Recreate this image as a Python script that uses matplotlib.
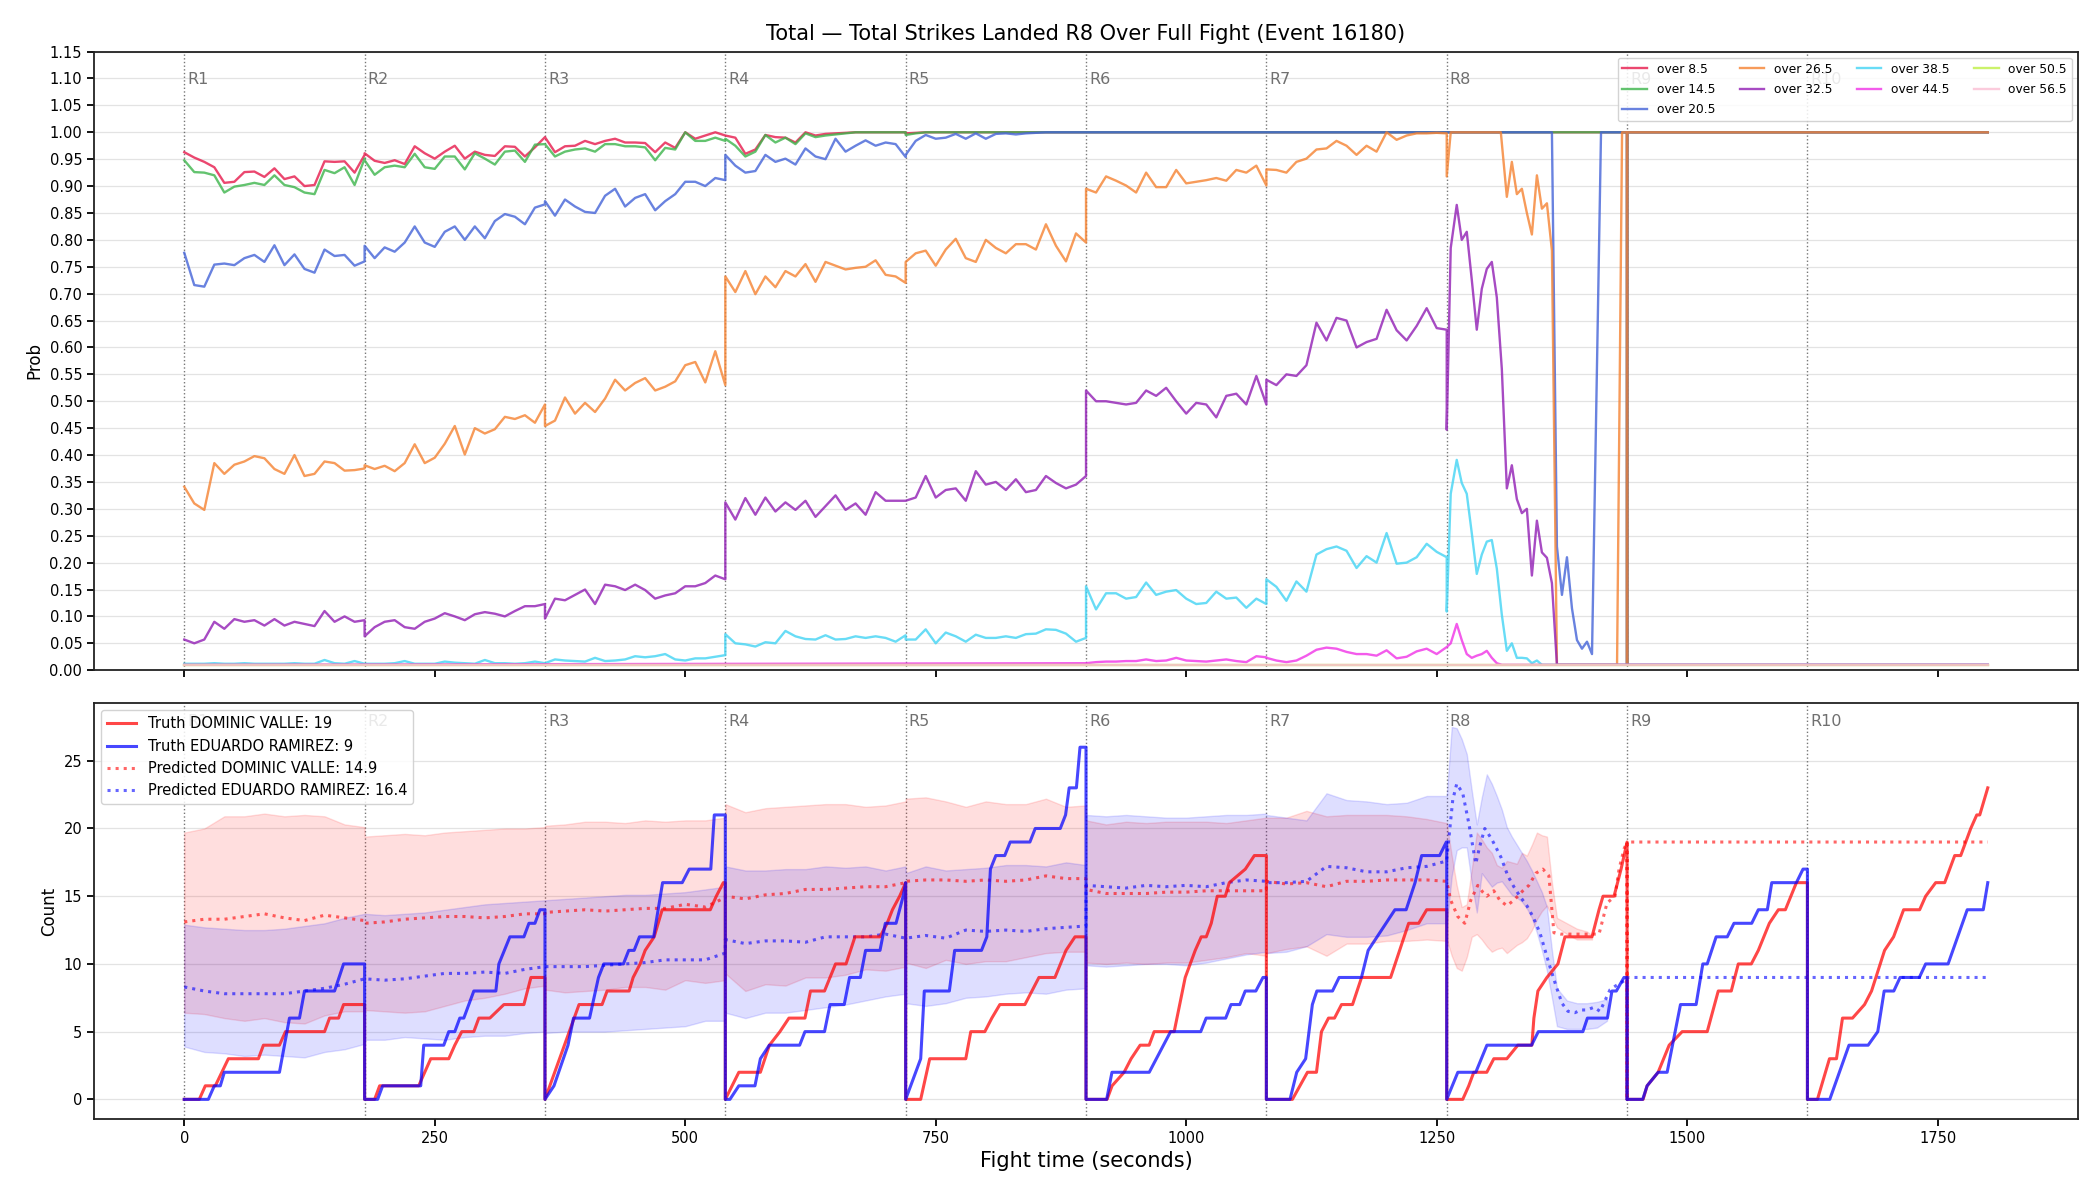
import numpy as np
import matplotlib
matplotlib.use("Agg")
import matplotlib.pyplot as plt
import matplotlib.transforms as mtransforms

ROUND_LEN = 180
N_ROUNDS = 10

# Rounds 1-7: top panel sampled every 10 s, bottom panel every 20 s
# (end of one round and start of the next share a time stamp)
t_top = np.concatenate([r * ROUND_LEN + np.arange(0, ROUND_LEN + 1, 10) for r in range(7)])
t_grid = np.concatenate([r * ROUND_LEN + np.arange(0, ROUND_LEN + 1, 20) for r in range(7)])

# ---------------- top panel: P(total strikes over line) ----------------
line_names = ['over 8.5', 'over 14.5', 'over 20.5', 'over 26.5', 'over 32.5',
              'over 38.5', 'over 44.5', 'over 50.5', 'over 56.5']
line_colors = ['#e6194b', '#3cb44b', '#4363d8', '#f58231', '#911eb4',
               '#42d4f4', '#f032e6', '#bfef45', '#fabed4']

over_8_5 = [
    0.963, 0.953, 0.945, 0.935, 0.906, 0.908, 0.926, 0.927, 0.917, 0.933, 0.913, 0.918, 0.900, 0.902, 0.946, 0.945, 0.946, 0.925, 0.958,
    0.961, 0.947, 0.943, 0.948, 0.941, 0.974, 0.961, 0.951, 0.964, 0.975, 0.951, 0.964, 0.958, 0.956, 0.974, 0.973, 0.955, 0.972, 0.991,
    0.991, 0.963, 0.974, 0.975, 0.984, 0.978, 0.984, 0.988, 0.981, 0.981, 0.980, 0.963, 0.981, 0.971, 1.000, 0.988, 0.994, 1.000, 0.994,
    0.994, 0.990, 0.960, 0.968, 0.995, 0.991, 0.990, 0.981, 1.000, 0.994, 0.997, 0.998, 0.999, 1.000, 1.000, 1.000, 1.000, 1.000, 1.000,
    0.998, 0.999, 1.000, 1.000, 1.000, 1.000, 1.000, 1.000, 1.000, 1.000, 1.000, 1.000, 1.000, 1.000, 1.000, 1.000, 1.000, 1.000, 1.000,
    1.000, 1.000, 1.000, 1.000, 1.000, 1.000, 1.000, 1.000, 1.000, 1.000, 1.000, 1.000, 1.000, 1.000, 1.000, 1.000, 1.000, 1.000, 1.000,
    1.000, 1.000, 1.000, 1.000, 1.000, 1.000, 1.000, 1.000, 1.000, 1.000, 1.000, 1.000, 1.000, 1.000, 1.000, 1.000, 1.000, 1.000, 1.000,
]
over_14_5 = [
    0.948, 0.926, 0.925, 0.920, 0.888, 0.899, 0.902, 0.906, 0.902, 0.920, 0.902, 0.898, 0.888, 0.885, 0.930, 0.924, 0.935, 0.902, 0.951,
    0.948, 0.921, 0.935, 0.938, 0.935, 0.960, 0.935, 0.932, 0.955, 0.955, 0.931, 0.961, 0.951, 0.940, 0.964, 0.966, 0.945, 0.977, 0.978,
    0.978, 0.955, 0.964, 0.968, 0.970, 0.964, 0.978, 0.978, 0.974, 0.974, 0.972, 0.948, 0.971, 0.968, 1.000, 0.984, 0.984, 0.990, 0.984,
    0.988, 0.975, 0.955, 0.964, 0.995, 0.981, 0.990, 0.978, 0.998, 0.991, 0.994, 0.996, 0.998, 1.000, 1.000, 1.000, 1.000, 1.000, 1.000,
    0.995, 0.998, 1.000, 1.000, 1.000, 1.000, 1.000, 1.000, 1.000, 1.000, 1.000, 1.000, 1.000, 1.000, 1.000, 1.000, 1.000, 1.000, 1.000,
    1.000, 1.000, 1.000, 1.000, 1.000, 1.000, 1.000, 1.000, 1.000, 1.000, 1.000, 1.000, 1.000, 1.000, 1.000, 1.000, 1.000, 1.000, 1.000,
    1.000, 1.000, 1.000, 1.000, 1.000, 1.000, 1.000, 1.000, 1.000, 1.000, 1.000, 1.000, 1.000, 1.000, 1.000, 1.000, 1.000, 1.000, 1.000,
]
over_20_5 = [
    0.776, 0.716, 0.713, 0.754, 0.756, 0.753, 0.766, 0.772, 0.759, 0.790, 0.753, 0.773, 0.746, 0.739, 0.782, 0.770, 0.772, 0.752, 0.760,
    0.789, 0.766, 0.786, 0.778, 0.795, 0.825, 0.795, 0.787, 0.815, 0.825, 0.800, 0.825, 0.803, 0.835, 0.848, 0.843, 0.829, 0.860, 0.866,
    0.872, 0.845, 0.875, 0.862, 0.852, 0.850, 0.882, 0.895, 0.862, 0.878, 0.885, 0.855, 0.872, 0.885, 0.908, 0.908, 0.900, 0.915, 0.911,
    0.958, 0.938, 0.925, 0.928, 0.958, 0.945, 0.951, 0.940, 0.970, 0.955, 0.950, 0.988, 0.964, 0.975, 0.985, 0.975, 0.981, 0.978, 0.954,
    0.958, 0.984, 0.995, 0.988, 0.990, 0.997, 0.988, 0.998, 0.988, 0.997, 0.998, 0.996, 0.998, 0.999, 1.000, 1.000, 1.000, 1.000, 1.000,
    1.000, 1.000, 1.000, 1.000, 1.000, 1.000, 1.000, 1.000, 1.000, 1.000, 1.000, 1.000, 1.000, 1.000, 1.000, 1.000, 1.000, 1.000, 1.000,
    1.000, 1.000, 1.000, 1.000, 1.000, 1.000, 1.000, 1.000, 1.000, 1.000, 1.000, 1.000, 1.000, 1.000, 1.000, 1.000, 1.000, 1.000, 1.000,
]
over_26_5 = [
    0.341, 0.310, 0.298, 0.385, 0.365, 0.382, 0.388, 0.398, 0.394, 0.374, 0.365, 0.400, 0.361, 0.365, 0.388, 0.385, 0.371, 0.372, 0.375,
    0.381, 0.374, 0.380, 0.370, 0.385, 0.420, 0.385, 0.395, 0.421, 0.454, 0.401, 0.450, 0.440, 0.448, 0.471, 0.467, 0.474, 0.460, 0.494,
    0.454, 0.464, 0.507, 0.477, 0.497, 0.480, 0.505, 0.540, 0.520, 0.534, 0.543, 0.520, 0.527, 0.537, 0.567, 0.573, 0.535, 0.593, 0.530,
    0.732, 0.703, 0.742, 0.699, 0.732, 0.712, 0.742, 0.732, 0.755, 0.722, 0.759, 0.752, 0.745, 0.748, 0.750, 0.762, 0.735, 0.732, 0.720,
    0.759, 0.775, 0.780, 0.752, 0.782, 0.802, 0.766, 0.759, 0.800, 0.785, 0.775, 0.792, 0.792, 0.782, 0.829, 0.789, 0.760, 0.812, 0.795,
    0.895, 0.888, 0.918, 0.910, 0.901, 0.888, 0.925, 0.898, 0.898, 0.930, 0.905, 0.908, 0.911, 0.915, 0.910, 0.930, 0.925, 0.938, 0.901,
    0.931, 0.930, 0.925, 0.945, 0.951, 0.968, 0.970, 0.984, 0.975, 0.958, 0.975, 0.964, 1.000, 0.986, 0.994, 0.998, 0.998, 0.999, 0.998,
]
over_32_5 = [
    0.057, 0.050, 0.057, 0.090, 0.077, 0.095, 0.090, 0.093, 0.083, 0.095, 0.083, 0.090, 0.086, 0.082, 0.110, 0.090, 0.100, 0.090, 0.093,
    0.063, 0.080, 0.090, 0.093, 0.080, 0.077, 0.090, 0.096, 0.106, 0.100, 0.093, 0.104, 0.108, 0.105, 0.100, 0.110, 0.119, 0.119, 0.123,
    0.096, 0.133, 0.130, 0.140, 0.150, 0.123, 0.159, 0.156, 0.149, 0.159, 0.149, 0.133, 0.139, 0.143, 0.156, 0.156, 0.162, 0.176, 0.169,
    0.312, 0.280, 0.320, 0.289, 0.321, 0.295, 0.312, 0.298, 0.315, 0.285, 0.305, 0.325, 0.298, 0.310, 0.289, 0.331, 0.315, 0.315, 0.315,
    0.315, 0.321, 0.361, 0.321, 0.335, 0.338, 0.315, 0.370, 0.345, 0.350, 0.335, 0.355, 0.331, 0.335, 0.361, 0.348, 0.338, 0.345, 0.361,
    0.520, 0.500, 0.500, 0.497, 0.494, 0.497, 0.520, 0.510, 0.525, 0.500, 0.477, 0.497, 0.494, 0.470, 0.510, 0.514, 0.494, 0.547, 0.494,
    0.540, 0.530, 0.550, 0.547, 0.567, 0.646, 0.613, 0.655, 0.650, 0.600, 0.610, 0.616, 0.670, 0.632, 0.613, 0.640, 0.673, 0.636, 0.633,
]
over_38_5 = [
    0.012, 0.012, 0.012, 0.013, 0.012, 0.012, 0.013, 0.012, 0.012, 0.012, 0.012, 0.013, 0.012, 0.012, 0.019, 0.013, 0.012, 0.017, 0.012,
    0.012, 0.012, 0.012, 0.013, 0.017, 0.012, 0.012, 0.012, 0.016, 0.014, 0.013, 0.012, 0.019, 0.013, 0.013, 0.012, 0.013, 0.016, 0.013,
    0.013, 0.020, 0.018, 0.017, 0.016, 0.023, 0.017, 0.018, 0.020, 0.026, 0.024, 0.026, 0.030, 0.020, 0.018, 0.022, 0.022, 0.025, 0.028,
    0.067, 0.050, 0.048, 0.044, 0.052, 0.050, 0.073, 0.063, 0.058, 0.057, 0.065, 0.057, 0.058, 0.063, 0.060, 0.063, 0.060, 0.053, 0.065,
    0.057, 0.057, 0.076, 0.050, 0.070, 0.063, 0.053, 0.066, 0.060, 0.060, 0.063, 0.060, 0.067, 0.068, 0.076, 0.075, 0.068, 0.053, 0.060,
    0.156, 0.113, 0.143, 0.143, 0.133, 0.136, 0.163, 0.140, 0.146, 0.149, 0.133, 0.123, 0.125, 0.146, 0.133, 0.135, 0.116, 0.133, 0.123,
    0.169, 0.155, 0.129, 0.165, 0.146, 0.215, 0.225, 0.230, 0.222, 0.190, 0.212, 0.200, 0.255, 0.198, 0.200, 0.210, 0.235, 0.220, 0.210,
]
# over 44.5 only lifts off the floor from round 6
over_44_5_r6_r7 = [
    0.013, 0.015, 0.016, 0.016, 0.017, 0.017, 0.020, 0.017, 0.018, 0.023, 0.018, 0.017, 0.016, 0.018, 0.020, 0.017, 0.015, 0.026, 0.024,
    0.023, 0.018, 0.015, 0.018, 0.027, 0.038, 0.042, 0.040, 0.034, 0.030, 0.030, 0.027, 0.037, 0.022, 0.025, 0.035, 0.040, 0.030, 0.043,
]

# round 8 onward, own time stamps
t8_hi = [1260, 1440, 1440, 1440, 1800]
v8_hi = [1.0, 1.0, 0.01, 1.0, 1.0]
t8_20 = [1260, 1365, 1370, 1375, 1380, 1385, 1390, 1395, 1400, 1405, 1414,
         1440, 1440, 1440, 1800]
v8_20 = [1.0, 1.0, 0.23, 0.14, 0.21, 0.115, 0.056, 0.04, 0.053, 0.03, 1.0,
         1.0, 0.01, 1.0, 1.0]
t8_26 = [1260, 1264, 1314, 1320, 1325, 1330, 1335, 1340, 1345, 1350, 1355,
         1360, 1365, 1370, 1430, 1435, 1440, 1440, 1440, 1800]
v8_26 = [0.918, 1.0, 1.0, 0.88, 0.945, 0.885, 0.895, 0.85, 0.81, 0.92, 0.858,
         0.868, 0.78, 0.01, 0.01, 1.0, 1.0, 0.01, 1.0, 1.0]
t8_32 = [1260, 1264, 1270, 1275, 1280, 1285, 1290, 1295, 1300, 1305, 1310,
         1315, 1320, 1325, 1330, 1335, 1340, 1345, 1350, 1355, 1360, 1365,
         1370, 1800]
v8_32 = [0.447, 0.785, 0.865, 0.80, 0.815, 0.726, 0.633, 0.709, 0.746, 0.759,
         0.693, 0.56, 0.338, 0.381, 0.318, 0.292, 0.30, 0.176, 0.278, 0.219,
         0.209, 0.162, 0.01, 0.01]
t8_38 = [1260, 1264, 1270, 1275, 1280, 1285, 1290, 1295, 1300, 1305, 1310,
         1315, 1320, 1325, 1330, 1335, 1340, 1345, 1350, 1355, 1800]
v8_38 = [0.109, 0.328, 0.391, 0.348, 0.328, 0.255, 0.179, 0.215, 0.239, 0.242,
         0.189, 0.103, 0.036, 0.05, 0.023, 0.023, 0.022, 0.013, 0.018, 0.01,
         0.01]
t8_44 = [1260, 1264, 1270, 1275, 1280, 1285, 1290, 1295, 1300, 1305, 1310,
         1315, 1800]
v8_44 = [0.043, 0.05, 0.086, 0.056, 0.03, 0.023, 0.027, 0.03, 0.036, 0.023,
         0.013, 0.01, 0.01]
floor_t = [0, 1800]
floor_v = [0.01, 0.01]

# ---------------- bottom panel: cumulative strikes per round ----------------
name_a = 'DOMINIC VALLE'
name_b = 'EDUARDO RAMIREZ'
final_a, final_b = 19, 9
pred_final_a, pred_final_b = 14.9, 16.4

# truth: per round (offset in round, count)
truth_a_rounds = [
    ([0, 15, 21, 31, 44, 74, 79, 95, 101, 140, 145, 154, 159, 180],
     [0, 0, 1, 1, 3, 3, 4, 4, 5, 5, 6, 6, 7, 7]),
    ([0, 10, 15, 54, 60, 66, 84, 90, 97, 109, 114, 125, 139, 159, 166, 180],
     [0, 0, 1, 1, 2, 3, 3, 4, 5, 5, 6, 6, 7, 7, 9, 9]),
    ([0, 34, 57, 62, 84, 88, 95, 100, 109, 117, 165, 171, 178, 180],
     [0, 7, 7, 8, 8, 9, 10, 11, 12, 14, 14, 15, 16, 16]),
    ([0, 13.5, 35, 44, 54.5, 63.5, 79.5, 85, 99, 110, 120.5, 129.4, 154.4, 161.5, 166.8, 174, 180],
     [0, 2, 2, 4, 5, 6, 6, 8, 8, 10, 10, 12, 12, 13, 14, 15, 16]),
    ([0, 15, 24, 60, 65, 79, 86, 94, 119, 126, 133, 149, 160, 169, 180],
     [0, 0, 3, 3, 5, 5, 6, 7, 7, 8, 9, 9, 11, 12, 12]),
    ([0, 21, 26, 38, 45, 54, 63, 68, 88, 99, 109, 115, 120, 125, 131, 139, 143, 159, 168, 180],
     [0, 0, 1, 2, 3, 4, 4, 5, 5, 9, 11, 12, 12, 13, 15, 15, 16, 17, 18, 18]),
    ([0, 26, 41, 50, 55, 62, 68, 75, 86, 95, 124, 142, 152, 160, 180],
     [0, 0, 2, 2, 5, 6, 6, 7, 7, 9, 9, 13, 13, 14, 14]),
    ([0, 16, 22, 27, 40, 47, 60, 71, 85, 87, 91, 100, 111, 118, 145, 152, 156, 167, 174, 180],
     [0, 0, 1, 2, 2, 3, 3, 4, 4, 6, 8, 9, 10, 12, 12, 14, 15, 15, 17, 19]),
    ([0, 16, 20, 31, 42, 55, 80, 91, 104, 111, 124, 131, 142, 151, 158, 169, 180],
     [0, 0, 1, 2, 4, 5, 5, 8, 8, 10, 10, 11, 13, 14, 14, 16, 16]),
    ([0, 10, 22, 29, 35, 45, 57, 64, 77, 86, 96, 112, 118, 128, 137, 147, 153, 163, 169, 172, 180],
     [0, 0, 3, 3, 6, 6, 7, 8, 11, 12, 14, 14, 15, 16, 16, 18, 18, 20, 21, 21, 23]),
]
truth_b_rounds = [
    ([0, 24, 30, 36, 40, 95, 105, 115, 120, 150, 159, 180],
     [0, 0, 1, 1, 2, 2, 6, 6, 8, 8, 10, 10]),
    ([0, 13, 18, 56, 59, 79, 84, 90, 95, 99, 109, 131, 134, 145, 159, 164, 170, 175, 180],
     [0, 0, 1, 1, 4, 4, 5, 5, 6, 6, 8, 8, 10, 12, 12, 13, 13, 14, 14]),
    ([0, 9, 23, 28.5, 44.5, 53.4, 58.7, 78.3, 83.6, 89, 94.3, 108.5, 117.4, 137, 144, 165.5, 169, 180],
     [0, 1, 4, 6, 6, 9, 10, 10, 11, 11, 12, 12, 16, 16, 17, 17, 21, 21]),
    ([0, 4.6, 13.5, 29.6, 35, 43.9, 74.2, 79.5, 99, 104.5, 118.7, 124, 134.8, 140, 154.4, 159.7, 170.4, 177.5, 180],
     [0, 0, 1, 1, 3, 4, 4, 5, 5, 7, 7, 9, 9, 11, 11, 13, 13, 15, 16]),
    ([0, 15, 18.6, 43.6, 48.9, 75.7, 81, 84.6, 90, 98.9, 104.3, 124, 129.3, 154.3, 159.6, 163.2, 170.4, 174, 180],
     [0, 3, 8, 8, 11, 11, 12, 17, 18, 18, 19, 19, 20, 20, 21, 23, 23, 26, 26]),
    ([0, 20.6, 25.9, 63.1, 70.2, 84.4, 114.5, 119.9, 139.4, 144.7, 153.5, 158.9, 169.5, 176.6, 180],
     [0, 0, 2, 2, 3, 5, 5, 6, 6, 7, 7, 8, 8, 9, 9]),
    ([0, 23.6, 30.3, 39.2, 45.9, 50.4, 66, 72.6, 94.9, 101.6, 110.5, 119.4, 128.3, 139.5, 148.4, 155, 172.9, 179.6, 180],
     [0, 0, 2, 3, 7, 8, 8, 9, 9, 11, 12, 13, 14, 14, 16, 18, 18, 19, 19]),
    ([0, 11.1, 29, 40.1, 84.7, 91.4, 135.9, 140.4, 160.4, 164.9, 169.3, 176.9, 180],
     [0, 2, 2, 4, 4, 5, 5, 6, 6, 8, 8, 9, 9]),
    ([0, 15.6, 20, 31, 40, 53.3, 68.9, 75.6, 80, 88.9, 100, 106.7, 124.4, 131, 140, 144.4, 169, 175.6, 180],
     [0, 0, 1, 2, 2, 7, 7, 10, 10, 12, 12, 13, 13, 14, 14, 16, 16, 17, 17]),
    ([0, 22.3, 31.9, 41.5, 60.6, 70.2, 76.6, 86.2, 92.5, 111.7, 118, 140.4, 150, 159.5, 175.5, 180],
     [0, 0, 2, 4, 4, 5, 8, 8, 9, 9, 10, 10, 12, 14, 14, 16]),
]

# predicted mean and interval, rounds 1-7 on the 20 s grid
pred_a = [
    13.1, 13.3, 13.3, 13.5, 13.7, 13.4, 13.2, 13.6, 13.4, 13.2,
    13.0, 13.1, 13.3, 13.4, 13.5, 13.5, 13.4, 13.5, 13.7, 13.7,
    13.8, 13.9, 14.0, 13.9, 14.0, 14.1, 14.1, 14.4, 14.2, 14.9,
    15.0, 14.8, 15.1, 15.2, 15.5, 15.5, 15.6, 15.7, 15.7, 16.0,
    16.1, 16.2, 16.2, 16.1, 16.2, 16.1, 16.2, 16.5, 16.3, 16.3,
    15.5, 15.2, 15.2, 15.2, 15.3, 15.3, 15.4, 15.4, 15.4, 15.4,
    16.1, 15.9, 16.0, 15.7, 16.1, 16.1, 16.2, 16.2, 16.2, 16.1,
]
pred_b = [
    8.3, 8.0, 7.8, 7.8, 7.8, 7.8, 8.0, 8.2, 8.5, 8.9,
    8.9, 8.8, 8.9, 9.1, 9.3, 9.3, 9.4, 9.3, 9.6, 9.8,
    9.8, 9.8, 9.8, 9.9, 10.0, 10.1, 10.3, 10.3, 10.3, 10.8,
    11.8, 11.5, 11.7, 11.7, 11.6, 12.0, 12.0, 12.0, 12.2, 11.9,
    11.9, 12.1, 11.9, 12.5, 12.4, 12.5, 12.4, 12.6, 12.7, 12.8,
    15.8, 15.7, 15.6, 15.8, 15.7, 15.8, 15.7, 16.0, 16.2, 16.1,
    16.0, 16.0, 16.1, 17.2, 17.1, 16.8, 16.8, 17.1, 17.2, 17.6,
]
hi_a = [
    19.7, 20.0, 20.9, 20.9, 21.1, 20.9, 21.0, 20.9, 20.3, 20.1,
    19.4, 19.5, 19.6, 19.5, 19.7, 19.8, 19.9, 20.0, 20.0, 20.1,
    20.2, 20.3, 20.5, 20.5, 20.4, 20.6, 20.5, 20.6, 20.6, 20.8,
    21.8, 21.2, 21.5, 21.6, 21.7, 21.8, 21.8, 21.6, 21.7, 22.0,
    22.2, 22.3, 22.0, 21.6, 22.0, 21.8, 21.8, 22.2, 21.6, 21.7,
    20.6, 20.3, 20.5, 20.4, 20.5, 20.5, 20.5, 20.4, 20.6, 20.8,
    20.8, 20.8, 21.3, 20.9, 21.0, 21.0, 21.0, 20.9, 20.7, 20.4,
]
lo_a = [
    6.4, 6.3, 6.0, 5.8, 6.0, 5.7, 5.6, 6.2, 6.5, 6.5,
    6.6, 6.5, 6.4, 6.5, 6.9, 7.3, 7.5, 7.8, 8.2, 8.4,
    8.1, 7.9, 8.0, 8.1, 8.3, 8.3, 8.1, 8.8, 8.6, 8.8,
    9.3, 8.0, 8.5, 8.4, 9.0, 9.0, 9.2, 9.6, 9.5, 9.8,
    10.1, 9.7, 10.3, 10.0, 10.2, 10.2, 10.5, 10.8, 10.9, 10.9,
    10.1, 10.0, 10.1, 10.0, 10.1, 10.1, 10.3, 10.5, 10.8, 10.6,
    10.8, 11.1, 11.3, 10.6, 11.5, 11.5, 11.7, 11.7, 11.8, 11.7,
]
hi_b = [
    12.9, 12.7, 12.6, 12.5, 12.5, 12.6, 12.8, 13.0, 13.4, 13.7,
    13.7, 13.6, 13.7, 13.8, 14.0, 14.2, 14.4, 14.5, 14.6, 14.7,
    14.7, 14.8, 14.9, 15.0, 15.1, 15.1, 15.2, 15.3, 15.5, 15.7,
    17.2, 16.9, 16.9, 17.0, 17.0, 17.2, 17.1, 17.2, 16.9, 17.2,
    16.7, 17.2, 16.9, 17.0, 17.1, 17.3, 17.3, 17.2, 17.5, 17.3,
    21.0, 20.9, 21.0, 20.9, 20.8, 20.8, 20.9, 21.0, 21.0, 21.1,
    21.0, 20.8, 20.6, 22.6, 22.1, 22.0, 21.8, 21.9, 22.4, 22.4,
]
lo_b = [
    3.9, 3.5, 3.4, 3.2, 3.3, 3.2, 3.1, 3.5, 3.7, 4.1,
    4.4, 4.4, 4.6, 4.5, 4.4, 4.6, 4.7, 4.7, 4.9, 5.0,
    4.9, 5.0, 5.0, 5.0, 5.1, 5.2, 5.3, 5.4, 5.8, 5.8,
    6.4, 6.0, 6.4, 6.4, 6.6, 6.8, 7.0, 7.3, 7.6, 7.8,
    7.1, 6.9, 7.1, 7.5, 7.6, 7.8, 7.9, 7.8, 8.1, 8.2,
    9.9, 9.8, 9.9, 10.0, 10.0, 9.9, 10.1, 10.4, 10.7, 10.9,
    10.8, 10.9, 11.3, 12.2, 12.0, 12.0, 12.1, 12.5, 13.0, 13.0,
]

# round 8 (and the settled tail) on their own time stamps
t8_pred_a = [1260, 1264, 1271, 1278, 1284, 1291, 1296, 1300, 1307, 1313, 1320,
             1327, 1336, 1342, 1349, 1356, 1362, 1367, 1374, 1387, 1405, 1412,
             1420, 1428, 1432, 1437, 1440, 1440, 1440, 1800]
v8_pred_a = [16.1, 14.7, 13.5, 13.0, 14.7, 15.8, 15.3, 15.0, 15.4, 14.7, 14.3,
             14.7, 15.4, 15.8, 16.7, 17.0, 16.5, 12.3, 12.2, 12.2, 12.2, 12.2,
             14.5, 15.0, 17.0, 18.5, 19.0, 0.0, 19.0, 19.0]
t8_pred_b = [1260, 1266, 1270, 1276, 1282, 1289, 1293, 1298, 1305, 1314, 1321,
             1327, 1333, 1340, 1346, 1353, 1359, 1363, 1369, 1375, 1381, 1388,
             1394, 1400, 1407, 1413, 1423, 1429, 1436, 1440, 1440, 1440, 1800]
v8_pred_b = [17.7, 22.1, 23.3, 22.6, 20.4, 17.4, 18.7, 20.0, 19.2, 17.9, 16.5,
             15.7, 15.0, 14.3, 13.5, 12.3, 10.8, 9.8, 8.4, 7.1, 6.5, 6.4,
             6.6, 6.6, 6.8, 6.5, 8.1, 8.4, 8.7, 9.0, 0.0, 9.0, 9.0]
t8_band_a = [1260, 1265, 1270, 1275, 1280, 1285, 1290, 1295, 1300, 1305, 1310,
             1315, 1320, 1325, 1330, 1335, 1340, 1345, 1350, 1355, 1360, 1365,
             1370, 1380, 1390, 1400, 1405]
v8_hi_a = [20.4, 18.0, 15.8, 14.2, 14.4, 17.0, 19.7, 19.2, 18.6, 18.2, 17.3,
           17.1, 17.6, 17.5, 17.4, 18.2, 18.0, 18.8, 19.7, 19.5, 19.4, 16.0,
           13.4, 13.0, 12.6, 12.4, 12.1]
v8_lo_a = [11.8, 10.6, 9.7, 9.5, 10.5, 12.0, 12.2, 11.8, 11.3, 10.9, 11.1,
           11.2, 10.8, 11.1, 11.4, 11.6, 11.9, 12.5, 13.3, 13.9, 14.3, 13.5,
           12.7, 12.2, 11.8, 11.8, 11.8]
t8_band_b = [1260, 1265, 1270, 1275, 1280, 1285, 1290, 1295, 1300, 1305, 1310,
             1315, 1320, 1325, 1330, 1335, 1340, 1345, 1350, 1355, 1360, 1365,
             1370, 1380, 1390, 1400, 1410, 1420]
v8_hi_b = [22.4, 27.5, 27.4, 26.6, 25.5, 22.8, 20.3, 22.3, 24.0, 23.3, 22.4,
           21.4, 20.1, 19.4, 18.8, 18.2, 17.6, 16.9, 16.1, 15.3, 14.2, 11.0,
           8.2, 7.3, 7.1, 7.1, 7.2, 7.4]
v8_lo_b = [12.8, 16.5, 18.4, 18.6, 18.6, 16.0, 13.8, 16.7, 16.2, 15.7, 16.0,
           16.1, 15.6, 15.1, 14.9, 14.6, 14.1, 13.4, 12.3, 11.0, 9.5, 7.5,
           5.4, 5.2, 5.2, 5.2, 5.3, 5.8]


def join(t_a, v_a, t_b, v_b):
    return np.concatenate([t_a, t_b]), np.concatenate([v_a, v_b])


def truth_series(rounds):
    ts, vs = [], []
    for r, (o, v) in enumerate(rounds):
        ts.extend(r * ROUND_LEN + np.asarray(o, dtype=float))
        vs.extend(v)
    return np.array(ts), np.array(vs)


r6_start = 5 * 19  # index of round 6 in t_top
top_series = [
    join(t_top, over_8_5, t8_hi, v8_hi),
    join(t_top, over_14_5, t8_hi, v8_hi),
    join(t_top, over_20_5, t8_20, v8_20),
    join(t_top, over_26_5, t8_26, v8_26),
    join(t_top, over_32_5, t8_32, v8_32),
    join(t_top, over_38_5, t8_38, v8_38),
    join(np.concatenate([[0], t_top[r6_start:]]),
         np.concatenate([[0.01], over_44_5_r6_r7]), t8_44, v8_44),
    (np.array(floor_t), np.array(floor_v)),
    (np.array(floor_t), np.array(floor_v)),
]

plt.rcParams['font.family'] = 'DejaVu Sans'
fig = plt.figure(figsize=(21, 12), dpi=100)
ax1 = fig.add_axes([0.0448, 0.4415, 0.9447, 0.5155])
ax2 = fig.add_axes([0.0448, 0.0675, 0.9447, 0.3465], sharex=ax1)

round_starts = [r * ROUND_LEN for r in range(N_ROUNDS)]

for ax in (ax1, ax2):
    ax.grid(axis='y', color='#e3e3e3', lw=0.9)
    ax.set_axisbelow(True)
    for x0 in round_starts:
        ax.axvline(x0, color='#555555', ls=':', lw=1.0, alpha=0.8, zorder=1)
    trans = mtransforms.blended_transform_factory(ax.transData, ax.transAxes)
    for i, x0 in enumerate(round_starts):
        ax.text(x0 + 3, 0.955, f'R{i + 1}', transform=trans, color='#707070',
                fontsize=11.5, va='center', ha='left', zorder=1)
    for s in ax.spines.values():
        s.set_linewidth(1.3)
        s.set_color('#222222')
    ax.tick_params(labelsize=10.5, width=1.3, length=5)

# top panel
for (t, v), name, c in zip(top_series, line_names, line_colors):
    ax1.plot(t, v, color=c, lw=1.7, alpha=0.8, label=name, zorder=3)
ax1.set_ylim(0, 1.15)
ax1.set_yticks(np.round(np.arange(0, 1.1501, 0.05), 2))
ax1.yaxis.set_major_formatter(matplotlib.ticker.FormatStrFormatter('%.2f'))
ax1.set_ylabel('Prob', fontsize=12)
ax1.set_title('Total \u2014 Total Strikes Landed R8 Over Full Fight (Event 16180)',
              fontsize=15, pad=8)
ax1.tick_params(labelbottom=False)
ax1.legend(loc='upper right', ncol=4, fontsize=8.8, framealpha=0.85,
           handlelength=2.0, columnspacing=2.0, labelspacing=0.6)

# bottom panel
ta, va = truth_series(truth_a_rounds)
tb, vb = truth_series(truth_b_rounds)
tpa, vpa = join(t_grid, pred_a, t8_pred_a, v8_pred_a)
tpb, vpb = join(t_grid, pred_b, t8_pred_b, v8_pred_b)
tba, hia = join(t_grid, hi_a, t8_band_a, v8_hi_a)
_, loa = join(t_grid, lo_a, t8_band_a, v8_lo_a)
tbb, hib = join(t_grid, hi_b, t8_band_b, v8_hi_b)
_, lob = join(t_grid, lo_b, t8_band_b, v8_lo_b)

ax2.fill_between(tba, loa, hia, color='red', alpha=0.13, lw=1.0, zorder=2)
ax2.fill_between(tbb, lob, hib, color='blue', alpha=0.13, lw=1.0, zorder=2)
ax2.plot(ta, va, color='red', lw=2.2, alpha=0.72, label=f'Truth {name_a}: {final_a}', zorder=4)
ax2.plot(tb, vb, color='blue', lw=2.2, alpha=0.72, label=f'Truth {name_b}: {final_b}', zorder=4)
ax2.plot(tpa, vpa, color='red', ls=':', lw=2.2, alpha=0.6,
         label=f'Predicted {name_a}: {pred_final_a}', zorder=3)
ax2.plot(tpb, vpb, color='blue', ls=':', lw=2.2, alpha=0.6,
         label=f'Predicted {name_b}: {pred_final_b}', zorder=3)
ax2.set_ylim(-1.45, 29.25)
ax2.set_yticks([0, 5, 10, 15, 20, 25])
ax2.set_xlim(-90, 1890)
ax2.set_xticks([0, 250, 500, 750, 1000, 1250, 1500, 1750])
ax2.set_ylabel('Count', fontsize=12)
ax2.set_xlabel('Fight time (seconds)', fontsize=15)
ax2.legend(loc='upper left', fontsize=10.5, framealpha=0.85)

fig.savefig('out.png', dpi=100)
